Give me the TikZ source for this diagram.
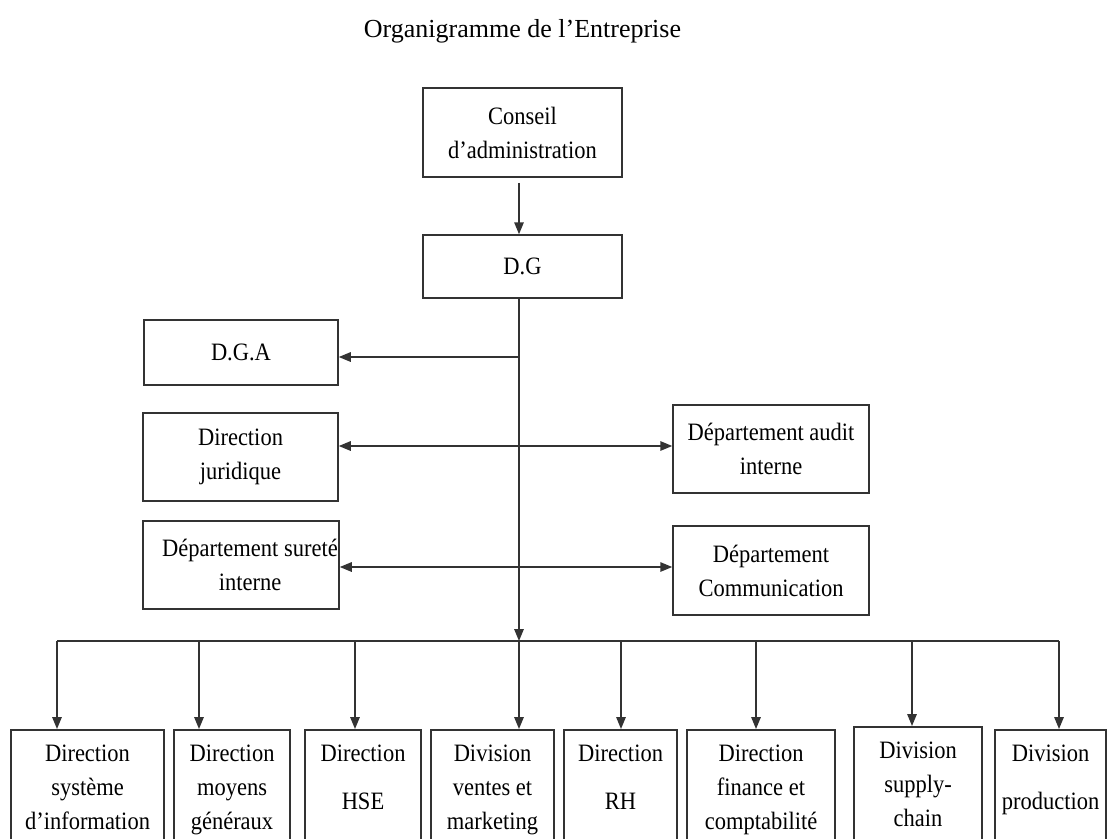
\documentclass[tikz,border=0pt]{standalone}
\usepackage{fontspec}
\setmainfont{Liberation Serif}
\newfontfamily\boxfont[FakeStretch=0.9]{Liberation Serif}
\usetikzlibrary{arrows.meta,calc}

\tikzset{
  link/.style={line width=1.5pt, draw=black!80},
  tip/.tip={Triangle[length=12pt,width=9.5pt]},
  arr/.style={link, -tip},
  darr/.style={link, tip-tip},
  box/.style={draw=black!80, line width=1.5pt, align=center, inner sep=0pt,
    font=\boxfont\fontsize{25}{34}\selectfont},
  lower/.style={box, anchor=north, minimum height=140pt},
  ltext/.style={anchor=north, yshift=-16pt, align=center, inner sep=0pt,
    font=\boxfont\fontsize{25}{34}\selectfont},
}

\begin{document}
\begin{tikzpicture}[x=1pt, y=-1pt]
  \path[use as bounding box, clip] (0,0) rectangle (1110,838);
  \fill[white] (0,0) rectangle (1110,838);

  % title
  \node[anchor=base, inner sep=0pt, font=\fontsize{26}{30}\selectfont] (title) at (522.5,37)
    {Organigramme de l’Entreprise};

  % top of the hierarchy
  \node[box, minimum width=199pt, minimum height=89pt] (cons) at (522.5,132.5)
    {Conseil\\d’administration};
  \node[box, minimum width=199pt, minimum height=63pt] (dg) at (522.5,266.5) {D.G};

  % staff boxes on both sides of the main line
  \node[box, minimum width=194pt, minimum height=65pt] (dga) at (241,352.5) {D.G.A};
  \node[box, minimum width=195pt, minimum height=88pt] (jur) at (240.5,457)
    {Direction\\juridique};
  \node[box, minimum width=196pt, minimum height=88pt] (sur) at (241,565)
    {\hspace*{18pt}Département sureté\\\hspace*{18pt}interne};
  \node[box, minimum width=196pt, minimum height=88pt] (aud) at (771,449)
    {Département audit\\interne};
  \node[box, minimum width=196pt, minimum height=89pt] (com) at (771,570.5)
    {Département\\Communication};

  % operational directions and divisions
  \node[lower, minimum width=153pt, label={[ltext]north:{Direction\\système\\d’information}}] (b1) at (87.5,729) {};
  \node[lower, minimum width=116pt, label={[ltext]north:{Direction\\moyens\\généraux}}] (b2) at (232,729) {};
  \node[lower, minimum width=116pt, label={[ltext]north:{Direction\\[14pt]HSE}}] (b3) at (363,729) {};
  \node[lower, minimum width=123pt, label={[ltext]north:{Division\\ventes et\\marketing}}] (b4) at (492.5,729) {};
  \node[lower, minimum width=113pt, label={[ltext]north:{Direction\\[14pt]RH}}] (b5) at (620.5,729) {};
  \node[lower, minimum width=148pt, label={[ltext]north:{Direction\\finance et\\comptabilité}}] (b6) at (761,729) {};
  \node[lower, minimum width=128pt, label={[ltext]north:{Division\\supply-\\chain}}] (b7) at (918,726) {};
  \node[lower, minimum width=111pt, label={[ltext]north:{Division\\[14pt]production}}] (b8) at (1050.5,729) {};

  % junction points on the main line and on the bus
  \coordinate (ydga) at (519,357);
  \coordinate (yjur) at (519,446);
  \coordinate (ysur) at (519,567);
  \coordinate (busc) at (519,641);
  \coordinate (d1) at (57,641);
  \coordinate (d2) at (199,641);
  \coordinate (d3) at (355,641);
  \coordinate (d4) at (519,641);
  \coordinate (d5) at (621,641);
  \coordinate (d6) at (756,641);
  \coordinate (d7) at (912,641);
  \coordinate (d8) at (1059,641);

  % connectors
  \draw[arr] ($(cons.south -| busc)+(0,5)$) -- (dg.north -| busc);
  \draw[arr] (dg.south -| busc) -- (busc);
  \draw[arr] (ydga) -- (ydga -| dga.east);
  \draw[darr] (yjur -| jur.east) -- (yjur -| aud.west);
  \draw[darr] (ysur -| sur.east) -- (ysur -| com.west);

  \draw[link] (d1) -- (d8);
  \foreach \i in {1,...,8}
    \draw[arr] (d\i) -- (d\i |- b\i.north);
\end{tikzpicture}
\end{document}
